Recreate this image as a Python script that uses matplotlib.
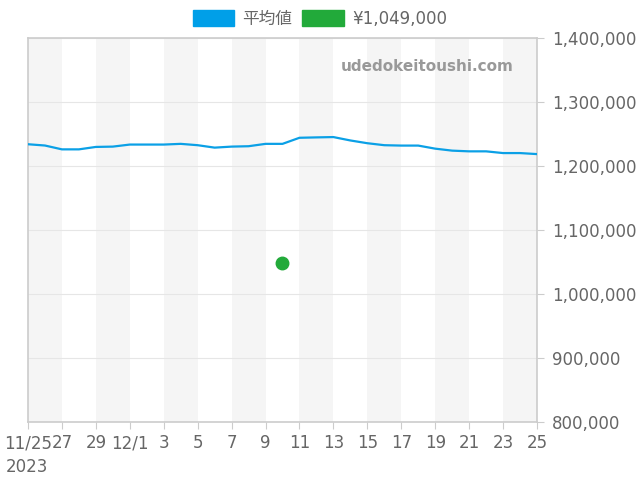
import pandas as pd
import matplotlib
matplotlib.use('Agg')
import matplotlib.pyplot as plt
from matplotlib.patches import Patch
import numpy as np

plt.rcParams['font.family'] = ['DejaVu Sans', 'Noto Sans CJK JP']

dates = pd.date_range('2023-11-25', '2023-12-25', freq='D')
avg_price = [1234000, 1232000, 1226000, 1226000, 1229800, 1230300, 1233500,
             1233500, 1233500, 1234600, 1232500, 1228700, 1230300, 1230900,
             1234600, 1234600, 1244100, 1244700, 1245200, 1239900, 1235600,
             1232500, 1231900, 1231900, 1227100, 1224000, 1222900, 1222900,
             1220200, 1220200, 1218600]
point_date = pd.Timestamp('2023-12-10')
point_price = 1049000
tick_labels = ['11/25', '27', '29', '12/1', '3', '5', '7', '9', '11', '13',
               '15', '17', '19', '21', '23', '25']

blue = '#0BA0E6'
green = '#22AA3A'
txt = '#666666'

fig = plt.figure(figsize=(6.4, 4.8), dpi=100)
ax = fig.add_axes([28/640, 1-422/480, (537-28)/640, 384/480])

# alternating grey bands, 2 days wide
for k in range(0, len(dates)-1, 4):
    ax.axvspan(dates[k], dates[k+2], color='#f5f5f5', lw=0, zorder=0)

ax.plot(dates, avg_price, color=blue, lw=1.6, zorder=3)
ax.plot([point_date], [point_price], 'o', color=green, ms=9, zorder=4)

ax.set_xlim(dates[0], dates[-1])
ax.set_ylim(800000, 1400000)
ax.set_yticks(np.arange(800000, 1400001, 100000))
ax.yaxis.tick_right()
ax.yaxis.set_major_formatter(matplotlib.ticker.FuncFormatter(lambda v, p: '{:,.0f}'.format(v)))
ax.set_xticks(dates[::2])
ax.set_xticklabels(tick_labels)
ax.tick_params(axis='both', colors='#cccccc', labelcolor=txt, labelsize=12, length=5)
ax.tick_params(axis='x', pad=4)
ax.tick_params(axis='y', pad=6)
ax.grid(axis='y', color='#e6e6e6', lw=0.8, zorder=1)
for s in ax.spines.values():
    s.set_color('#cccccc')
    s.set_linewidth(1.2)

fig.text(6/640, 1-467/480, '2023', color=txt, fontsize=12, va='center', ha='left')
ax.text(0.955, 0.927, 'udedokeitoushi.com', transform=ax.transAxes, ha='right',
        va='center', fontsize=11, fontweight='bold', color='#999999', zorder=5)

handles = [Patch(color='#009FE8', label='平均値'), Patch(color=green, label='¥1,049,000')]
fig.legend(handles=handles, loc='center', bbox_to_anchor=(0.5, 1-19/480), ncol=2,
           frameon=False, fontsize=12, labelcolor=txt, handlelength=2.5,
           handleheight=1.1, handletextpad=0.5, columnspacing=0.6)

fig.savefig('out.png', dpi=100)
